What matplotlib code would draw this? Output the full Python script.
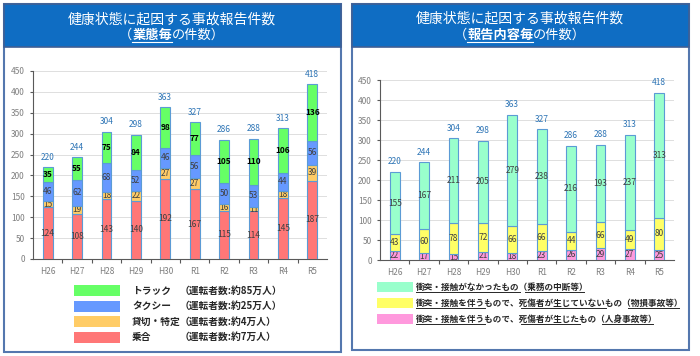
import matplotlib.pyplot as plt
import matplotlib.patches as mpatches
from matplotlib.lines import Line2D
import numpy as np

plt.rcParams['font.family'] = ['Noto Sans CJK JP', 'DejaVu Sans']

# Data tahun (kategori)
tahun = ['H26', 'H27', 'H28', 'H29', 'H30', 'R1', 'R2', 'R3', 'R4', 'R5']

# Grafik kiri: per jenis usaha (業態毎)
noriai = [124, 108, 143, 140, 192, 167, 115, 114, 145, 187]
kashikiri = [15, 19, 18, 22, 27, 27, 16, 11, 18, 39]
taxi = [46, 62, 68, 52, 46, 56, 50, 53, 44, 56]
truck = [35, 55, 75, 84, 98, 77, 105, 110, 106, 136]

# Grafik kanan: per isi laporan (報告内容毎)
jinshin = [22, 17, 15, 21, 18, 23, 26, 29, 27, 25]
butsuson = [43, 60, 78, 72, 66, 66, 44, 66, 49, 80]
chudan = [155, 167, 211, 205, 279, 238, 216, 193, 237, 313]

nama_kiri = ['トラック', 'タクシー', '貸切・特定', '乗合']
ket_kiri = ['（運転者数:約85万人）', '（運転者数:約25万人）', '（運転者数:約4万人）', '（運転者数:約7万人）']

W, H = 700, 356
fig = plt.figure(figsize=(7, 3.56), dpi=100)
fig.patch.set_facecolor('white')
r = fig.canvas.get_renderer()


def px(x, y):
    return x / W, 1 - y / H


def kotak(x0, y0, x1, y1, fc, ec='none', lw=0, z=1):
    fig.add_artist(mpatches.Rectangle(px(x0, y1), (x1 - x0) / W, (y1 - y0) / H,
                                      transform=fig.transFigure, fc=fc, ec=ec, lw=lw, zorder=z))


def judul_garis(bagian, x, y, size, color, off=7):
    # huruf lebar penuh -> lebar potongan = jumlah huruf x 1 em
    em = size * 100 / 72
    x = x - sum(len(s) for s, g in bagian) * em / 2
    for s, garis in bagian:
        w = len(s) * em
        fig.text(*px(x, y), s, fontsize=size, color=color, va='center',
                 fontweight='bold' if garis else 'normal')
        if garis:
            fig.add_artist(Line2D([x / W, (x + w) / W], [1 - (y + off) / H] * 2,
                                  transform=fig.transFigure, color=color, lw=0.8))
        x += w


def baris_garis(bagian, x, y, size, color, off=5):
    # satu baris teks utuh; posisi garis bawah diukur dari lebar awalan
    em = size * 100 / 72
    penuh = ''.join(s for s, g in bagian)
    fig.text(*px(x, y), penuh, fontsize=size, color=color, va='center', fontweight='bold')
    batas = []
    awalan = ''
    for s, g in bagian:
        awalan += s
        t = fig.text(*px(x, y), awalan, fontsize=size, va='center', fontweight='bold')
        bb = t.get_window_extent(r)
        batas.append((bb.x0, bb.x1))
        t.remove()
    kiri = batas[0][0]
    for (s, garis), (b0, b1) in zip(bagian, batas):
        if garis:
            a = kiri + (0.45 * em if s.startswith('（') else 0)
            b = b1 - (0.5 * em if s.endswith('）') else 0)
            fig.add_artist(Line2D([a / W, b / W], [1 - (y + off) / H] * 2,
                                  transform=fig.transFigure, color=color, lw=0.7))
        kiri = b1 + 1


# Panel dan header
kotak(4, 4, 341, 352, 'white', '#5477AE', 1.5, z=-5)
kotak(4, 4, 341, 47, '#0F6DC3', '#3F5F95', 1.2, z=-4)
kotak(352, 4, 689, 350, 'white', '#5477AE', 1.5, z=-5)
kotak(352, 4, 689, 47, '#0F6DC3', '#3F5F95', 1.2, z=-4)

fig.text(*px(172, 19), '健康状態に起因する事故報告件数', fontsize=10, color='white', ha='center', va='center')
judul_garis([('（', False), ('業態毎', True), ('の件数）', False)], 172, 35, 9.5, 'white')
fig.text(*px(520, 18), '健康状態に起因する事故報告件数', fontsize=10, color='white', ha='center', va='center')
judul_garis([('（', False), ('報告内容毎', True), ('の件数）', False)], 520, 35, 9.5, 'white')


def gambar_batang(ax, seri, warna, bold_atas):
    x = np.arange(len(tahun))
    dasar = np.zeros(len(tahun))
    for i, (nilai, w) in enumerate(zip(seri, warna)):
        b = ax.bar(x, nilai, 0.34, bottom=dasar, color=w, edgecolor='#5B9BD5', linewidth=0.8, zorder=3)
        atas = bold_atas and i == len(seri) - 1
        ax.bar_label(b, label_type='center', fontsize=6,
                     color='black' if atas else '#404040',
                     fontweight='bold' if atas else 'normal')
        dasar += np.array(nilai)
    for xi, tot in zip(x, dasar):
        ax.annotate(f'{int(tot)}', (xi, tot), xytext=(0, 4), textcoords='offset points',
                    ha='center', va='bottom', fontsize=6, color='#2E75B6')
    ax.set_xlim(-0.5, 9.5)
    ax.set_ylim(0, 450)
    ax.set_yticks(range(0, 451, 50))
    ax.set_xticks(x)
    ax.set_xticklabels(tahun)
    ax.set_xticks(np.arange(0.5, 9), minor=True)
    ax.grid(axis='y', color='#D9D9D9', linewidth=0.6, zorder=0)
    ax.set_axisbelow(True)
    for s in ['top', 'right']:
        ax.spines[s].set_visible(False)
    for s in ['left', 'bottom']:
        ax.spines[s].set_color('#595959')
        ax.spines[s].set_linewidth(0.8)
    ax.tick_params(axis='y', length=2, width=0.8, color='#595959', labelsize=6, labelcolor='#7F7F7F', pad=4)
    ax.tick_params(axis='x', which='major', length=0, labelsize=6, labelcolor='#7F7F7F', pad=6)
    ax.tick_params(axis='x', which='minor', length=3, width=0.8, color='#595959')


# Grafik kiri
ax1 = fig.add_axes([33 / W, 1 - 259 / H, (327 - 33) / W, (259 - 71) / H])
gambar_batang(ax1, [noriai, kashikiri, taxi, truck],
              ['#FF7777', '#FFCC66', '#6699FF', '#66FF66'], True)

# Grafik kanan
ax2 = fig.add_axes([380 / W, 1 - 260 / H, (674 - 380) / W, (260 - 80) / H])
gambar_batang(ax2, [jinshin, butsuson, chudan],
              ['#FF99DD', '#FFFF66', '#99FFCC'], False)

# Legenda kiri
warna_kiri = ['#66FF66', '#6699FF', '#FFCC66', '#FF7777']
for i, (nm, ket, w) in enumerate(zip(nama_kiri, ket_kiri, warna_kiri)):
    yc = 290.5 + i * 15.5
    kotak(74, yc - 5.5, 120, yc + 5.5, w)
    fig.text(*px(132, yc), nm, fontsize=7, fontweight='bold', color='#262626', va='center')
    fig.text(*px(180, yc), ket, fontsize=7, fontweight='bold', color='#262626', va='center')

# Legenda kanan
warna_kanan = ['#99FFCC', '#FFFF66', '#FF99DD']
teks_kanan = [
    [('衝突・接触がなかったもの', True), ('（乗務の中断等）', True)],
    [('衝突・接触を伴う', True), ('もので、', False), ('死傷者が生じていない', True), ('もの', False), ('（物損事故等）', True)],
    [('衝突・接触を伴う', True), ('もので、', False), ('死傷者が生じた', True), ('もの', False), ('（人身事故等）', True)],
]
for i, (w, bag) in enumerate(zip(warna_kanan, teks_kanan)):
    yc = 287 + i * 16
    kotak(377, yc - 5, 413, yc + 5, w)
    baris_garis(bag, 416, yc, 6.2, '#262626', off=5)

plt.savefig('out.png', dpi=100)
